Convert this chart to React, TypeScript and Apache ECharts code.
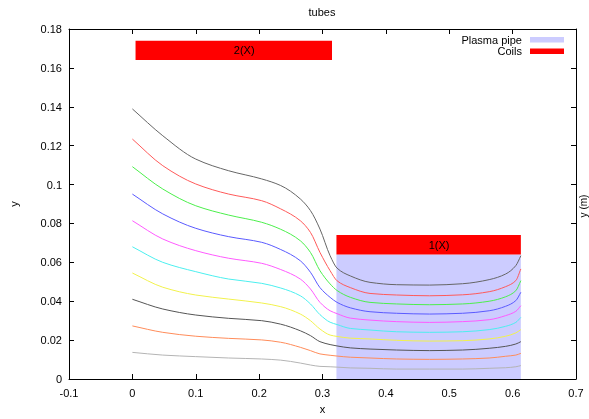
import React, { useEffect, useRef } from "react";
import * as echarts from "echarts";

// Sample positions along the tube axis (m)
const xs = [0, 0.048, 0.1, 0.152, 0.204, 0.234, 0.265, 0.281, 0.296, 0.312, 0.323, 0.344, 0.375, 0.417, 0.469, 0.521, 0.563, 0.589, 0.605, 0.613];

// Flux tube radii, outermost first
const tube1 = [0.1389, 0.1251, 0.1131, 0.1071, 0.1029, 0.0995, 0.0926, 0.0866, 0.0771, 0.0634, 0.057, 0.053, 0.0497, 0.0485, 0.0483, 0.049, 0.0511, 0.054, 0.0583, 0.0634];
const tube2 = [0.1234, 0.1097, 0.1003, 0.0951, 0.0917, 0.0875, 0.0814, 0.0754, 0.0651, 0.0557, 0.0505, 0.047, 0.044, 0.0432, 0.0428, 0.0433, 0.0449, 0.0475, 0.0506, 0.0566];
const tube3 = [0.1092, 0.0977, 0.0891, 0.0843, 0.0806, 0.077, 0.0711, 0.0651, 0.0557, 0.0489, 0.0455, 0.042, 0.0394, 0.0386, 0.0382, 0.0386, 0.04, 0.0423, 0.0454, 0.0506];
const tube4 = [0.0951, 0.0849, 0.0775, 0.0732, 0.0703, 0.0666, 0.0608, 0.0549, 0.047, 0.042, 0.0394, 0.0366, 0.0346, 0.0338, 0.0334, 0.0338, 0.0351, 0.0374, 0.0403, 0.0446];
const tube5 = [0.0814, 0.072, 0.066, 0.0621, 0.0595, 0.0563, 0.0514, 0.0463, 0.0394, 0.0351, 0.0336, 0.0313, 0.0303, 0.0295, 0.0291, 0.0295, 0.0305, 0.0326, 0.0348, 0.0377];
const tube6 = [0.068, 0.06, 0.0552, 0.0514, 0.0492, 0.0468, 0.0428, 0.0386, 0.0331, 0.0292, 0.028, 0.026, 0.0252, 0.0243, 0.024, 0.0243, 0.0254, 0.0271, 0.0291, 0.0317];
const tube7 = [0.0545, 0.0472, 0.0432, 0.0411, 0.0391, 0.0372, 0.0334, 0.03, 0.0257, 0.0226, 0.0219, 0.021, 0.0206, 0.0199, 0.0195, 0.0197, 0.0206, 0.022, 0.0237, 0.0254];
const tube8 = [0.041, 0.036, 0.0329, 0.0312, 0.03, 0.0282, 0.0248, 0.0223, 0.0192, 0.0177, 0.017, 0.016, 0.0154, 0.0149, 0.0146, 0.0149, 0.0158, 0.0168, 0.018, 0.0192];
const tube9 = [0.0273, 0.024, 0.022, 0.0209, 0.0201, 0.0189, 0.0163, 0.0146, 0.0129, 0.0122, 0.0118, 0.0112, 0.0108, 0.0103, 0.0101, 0.0103, 0.0108, 0.0117, 0.0123, 0.0132];
const tube10 = [0.0137, 0.0123, 0.0115, 0.0108, 0.0103, 0.0097, 0.0082, 0.0072, 0.0065, 0.0063, 0.0061, 0.0057, 0.0055, 0.0051, 0.0051, 0.0051, 0.0055, 0.0058, 0.0063, 0.0069];

const tubes = [tube1, tube2, tube3, tube4, tube5, tube6, tube7, tube8, tube9, tube10];
const tubeColors = ["#666666", "#ff5a5a", "#4cef4c", "#5a5aff", "#ff5aff", "#4cefef", "#f2f24c", "#555555", "#ff8c5a", "#b4b4b4"];

// Plasma pipe: [x0, x1, y0, y1]
const pipe = [[0.322, 0.613, 0, 0.064]];
// Coils: [x0, x1, y0, y1, label]
const coils = [
  [0.005, 0.315, 0.164, 0.174, "2(X)"],
  [0.322, 0.613, 0.064, 0.074, "1(X)"],
];

const FONT = "'Liberation Sans', Arial, sans-serif";

function rectItem(fill: string) {
  return (params: any, api: any) => {
    const x0 = api.value(0), x1 = api.value(1), y0 = api.value(2), y1 = api.value(3);
    const tl = api.coord([x0, y1]);
    const br = api.coord([x1, y0]);
    const children: any[] = [
      { type: "rect", shape: { x: tl[0], y: tl[1], width: br[0] - tl[0], height: br[1] - tl[1] }, style: { fill } },
    ];
    const label = api.value(4) as any;
    if (label && typeof label === "string") {
      const c = api.coord([(x0 + x1) / 2, (y0 + y1) / 2]);
      children.push({
        type: "text",
        x: c[0],
        y: c[1],
        style: { text: label, fill: "#000", font: `11px ${FONT}`, align: "left", verticalAlign: "middle" },
      });
    }
    return { type: "group", children };
  };
}

// Smooth curve through the samples: monotone cubic (Fritsch–Carlson) in pixel space,
// drawn as one cubic Bézier per sample interval.
function tubeItem(ys: number[], color: string) {
  return (params: any, api: any) => {
    if (params.dataIndex !== 0) return null;
    const p = xs.map((x, j) => api.coord([x, ys[j]]) as number[]);
    const n = p.length;
    const d: number[] = [];
    for (let i = 0; i < n - 1; i++) d.push((p[i + 1][1] - p[i][1]) / (p[i + 1][0] - p[i][0]));
    const m: number[] = new Array(n);
    m[0] = d[0];
    m[n - 1] = d[n - 2];
    for (let i = 1; i < n - 1; i++) {
      if (d[i - 1] * d[i] <= 0) m[i] = 0;
      else {
        const h0 = p[i][0] - p[i - 1][0];
        const h1 = p[i + 1][0] - p[i][0];
        const w1 = 2 * h1 + h0;
        const w2 = h1 + 2 * h0;
        m[i] = (w1 + w2) / (w1 / d[i - 1] + w2 / d[i]);
      }
    }
    const children: any[] = [];
    for (let i = 0; i < n - 1; i++) {
      const h = (p[i + 1][0] - p[i][0]) / 3;
      children.push({
        type: "bezierCurve",
        shape: {
          x1: p[i][0],
          y1: p[i][1],
          cpx1: p[i][0] + h,
          cpy1: p[i][1] + m[i] * h,
          cpx2: p[i + 1][0] - h,
          cpy2: p[i + 1][1] - m[i + 1] * h,
          x2: p[i + 1][0],
          y2: p[i + 1][1],
        },
        style: { stroke: color, lineWidth: 1, fill: null },
      });
    }
    return { type: "group", children };
  };
}

export default function App() {
  const ref = useRef<HTMLDivElement>(null);
  useEffect(() => {
    if (!ref.current) return;
    const chart = echarts.init(ref.current, null, { renderer: "svg" });
    const axisCommon = {
      type: "value" as const,
      axisLine: { show: true, onZero: false, lineStyle: { color: "#000", width: 1 } },
      axisTick: { show: true, inside: true, length: 5, lineStyle: { color: "#000" } },
      splitLine: { show: false },
    };
    const labelStyle = { color: "#000", fontSize: 11, fontFamily: FONT };
    const fmt = (v: number) => String(+v.toFixed(2));

    const tubeSeries = tubes.map((ys, i) => ({
      type: "custom",
      name: `tube${i + 1}`,
      xAxisIndex: 0,
      yAxisIndex: 0,
      renderItem: tubeItem(ys, tubeColors[i]),
      encode: { x: 0, y: 1 },
      data: xs.map((x, j) => [x, ys[j]]),
      z: 3,
    }));

    chart.setOption({
      animation: false,
      grid: { left: 67, right: 13, top: 29, bottom: 40 },
      xAxis: [
        {
          ...axisCommon,
          position: "bottom",
          min: -0.1,
          max: 0.7,
          interval: 0.1,
          axisLabel: { ...labelStyle, margin: 8, formatter: fmt },
          name: "x",
          nameLocation: "middle",
          nameGap: 24,
          nameTextStyle: labelStyle,
        },
        {
          ...axisCommon,
          position: "top",
          min: -0.1,
          max: 0.7,
          interval: 0.1,
          axisLabel: { show: false },
        },
      ],
      yAxis: [
        {
          ...axisCommon,
          position: "left",
          min: 0,
          max: 0.18,
          interval: 0.02,
          axisLabel: { ...labelStyle, margin: 7, formatter: fmt },
          name: "y",
          nameLocation: "middle",
          nameGap: 50,
          nameRotate: 90,
          nameTextStyle: labelStyle,
        },
        {
          ...axisCommon,
          position: "right",
          min: 0,
          max: 0.18,
          interval: 0.02,
          axisLabel: { show: false },
        },
      ],
      series: [
        {
          type: "custom",
          name: "Plasma pipe",
          xAxisIndex: 0,
          yAxisIndex: 0,
          renderItem: rectItem("#ccccff"),
          encode: { x: [0, 1], y: [2, 3] },
          data: pipe,
          z: 1,
        },
        {
          type: "custom",
          name: "Coils",
          xAxisIndex: 0,
          yAxisIndex: 0,
          renderItem: rectItem("#ff0000"),
          encode: { x: [0, 1], y: [2, 3] },
          data: coils,
          z: 2,
        },
        ...tubeSeries,
      ],
      graphic: [
        {
          type: "text",
          x: 322,
          y: 12,
          style: { text: "tubes", fill: "#000", font: `11px ${FONT}`, align: "center", verticalAlign: "middle" },
        },
        {
          type: "text",
          x: 522,
          y: 39.5,
          style: { text: "Plasma pipe", fill: "#000", font: `11px ${FONT}`, align: "right", verticalAlign: "middle" },
        },
        { type: "rect", shape: { x: 530, y: 37, width: 34, height: 5.5 }, style: { fill: "#ccccff" } },
        {
          type: "text",
          x: 522,
          y: 51,
          style: { text: "Coils", fill: "#000", font: `11px ${FONT}`, align: "right", verticalAlign: "middle" },
        },
        { type: "rect", shape: { x: 530, y: 48.5, width: 34, height: 5.5 }, style: { fill: "#ff0000" } },
        {
          type: "text",
          x: 583,
          y: 206,
          rotation: Math.PI / 2,
          style: { text: "y (m)", fill: "#000", font: `10px ${FONT}`, align: "center", verticalAlign: "middle" },
        },
      ],
    });
    return () => chart.dispose();
  }, []);
  return <div ref={ref} style={{ position: "fixed", left: 0, top: 0, width: 589, height: 419 }} />;
}
